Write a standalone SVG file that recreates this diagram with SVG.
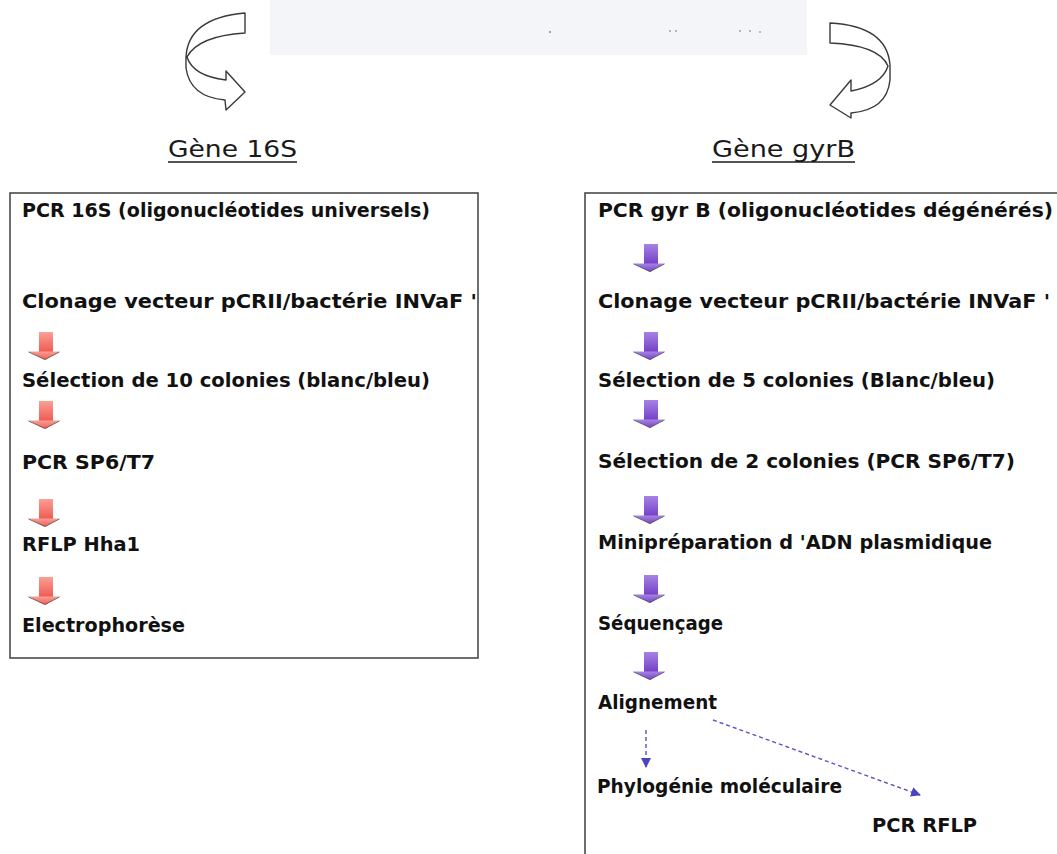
<svg xmlns="http://www.w3.org/2000/svg" width="1057" height="854" viewBox="0 0 1057 854">
<defs>
<style>
.t{font-family:"DejaVu Sans","Noto Sans",sans-serif;font-weight:bold;font-size:20px;fill:#111}
.h{font-family:"DejaVu Sans","Noto Sans",sans-serif;font-size:23px;fill:#1a1a1a}
.box{fill:#fff;stroke:#4a4a4a;stroke-width:1.6}
.curl{fill:#fff;stroke:#3a3a3a;stroke-width:1.4;stroke-linejoin:round}
.ul{stroke:#1a1a1a;stroke-width:1.6}
.dash{stroke:#5b52c4;stroke-width:1.4;stroke-dasharray:4 3;fill:none}
.red{fill:url(#gr)}
.pur{fill:url(#gp)}
</style>
<linearGradient id="gr" x1="0" y1="0" x2="0" y2="1">
<stop offset="0" stop-color="#fb9f96"/><stop offset="1" stop-color="#ef5a50"/>
</linearGradient>
<linearGradient id="gp" x1="0" y1="0" x2="0" y2="1">
<stop offset="0" stop-color="#a783e4"/><stop offset="1" stop-color="#7440c6"/>
</linearGradient>
<marker id="ah" viewBox="0 0 10 10" refX="9" refY="5" markerWidth="10" markerHeight="10" markerUnits="userSpaceOnUse" orient="auto">
<path d="M0,0 L10,5 L0,10 Z" fill="#4b44bf"/>
</marker>
<symbol id="arw" viewBox="0 0 32 28" overflow="visible">
<rect x="11" y="0" width="14" height="20"/>
<path d="M0,19.5 L32,19.5 L17,28 Z"/>
<path d="M0.5,20 L17,27.5 L31.5,20" fill="none" stroke="#555" stroke-width="0.8"/>
</symbol>
</defs>
<rect width="1057" height="854" fill="#fff"/>
<g id="faded">
<rect x="270" y="0" width="537" height="55" fill="#f4f5f9"/>
<circle cx="550" cy="32" r="1" fill="#888"/>
<circle cx="670" cy="31" r="0.9" fill="#999"/>
<circle cx="676" cy="31" r="0.9" fill="#999"/>
<circle cx="740" cy="31" r="0.9" fill="#999"/>
<circle cx="750" cy="31" r="0.9" fill="#999"/>
<circle cx="760" cy="32" r="0.9" fill="#999"/>
</g>
<g id="curl-left">
<path class="curl" d="M245,13 Q188,18 186,57 L186,68 Q190,97 225,100 L226,110 L245,92 L226,71 L226,80 Q193,76 187,57 Q198,36 245,33 Z"/>
</g>
<g id="curl-right">
<path class="curl" d="M830,23 Q887,26 890,65 L890,80 Q887,110 851,113 L851,118 L830,105 L851,80 L851,91 Q882,85 888,66 Q879,45 830,43 Z"/>
</g>
<g id="title-16s">
<text class="h" x="168" y="157" textLength="129" lengthAdjust="spacingAndGlyphs">Gène 16S</text>
<line class="ul" x1="168" y1="162" x2="297" y2="162"/>
</g>
<g id="title-gyrb">
<text class="h" x="712" y="157" textLength="143" lengthAdjust="spacingAndGlyphs">Gène gyrB</text>
<line class="ul" x1="712" y1="162" x2="855" y2="162"/>
</g>
<g id="box-16s">
<rect class="box" x="10" y="193" width="468" height="465"/>
<text class="t" x="22" y="217" textLength="408" lengthAdjust="spacingAndGlyphs">PCR 16S (oligonucléotides universels)</text>
<text class="t" x="22" y="308" textLength="455" lengthAdjust="spacingAndGlyphs">Clonage vecteur pCRII/bactérie INVaF '</text>
<text class="t" x="22" y="387" textLength="408" lengthAdjust="spacingAndGlyphs">Sélection de 10 colonies (blanc/bleu)</text>
<text class="t" x="22" y="469" textLength="133" lengthAdjust="spacingAndGlyphs">PCR SP6/T7</text>
<text class="t" x="22" y="551" textLength="118" lengthAdjust="spacingAndGlyphs">RFLP Hha1</text>
<text class="t" x="22" y="632" textLength="163" lengthAdjust="spacingAndGlyphs">Electrophorèse</text>
</g>
<g id="box-gyrb">
<rect class="box" x="585" y="193" width="480" height="680"/>
<text class="t" x="598" y="217" textLength="455" lengthAdjust="spacingAndGlyphs">PCR gyr B (oligonucléotides dégénérés)</text>
<text class="t" x="598" y="308" textLength="452" lengthAdjust="spacingAndGlyphs">Clonage vecteur pCRII/bactérie INVaF '</text>
<text class="t" x="598" y="387" textLength="397" lengthAdjust="spacingAndGlyphs">Sélection de 5 colonies (Blanc/bleu)</text>
<text class="t" x="598" y="468" textLength="417" lengthAdjust="spacingAndGlyphs">Sélection de 2 colonies (PCR SP6/T7)</text>
<text class="t" x="598" y="549" textLength="394" lengthAdjust="spacingAndGlyphs">Minipréparation d 'ADN plasmidique</text>
<text class="t" x="598" y="630" textLength="125" lengthAdjust="spacingAndGlyphs">Séquençage</text>
<text class="t" x="598" y="709" textLength="119" lengthAdjust="spacingAndGlyphs">Alignement</text>
<text class="t" x="597" y="793" textLength="245" lengthAdjust="spacingAndGlyphs">Phylogénie moléculaire</text>
<text class="t" x="872" y="832" textLength="105" lengthAdjust="spacingAndGlyphs">PCR RFLP</text>
</g>
<g id="connectors">
<use href="#arw" class="red" x="28" y="332" width="32" height="28"/>
<use href="#arw" class="red" x="28" y="401" width="32" height="28"/>
<use href="#arw" class="red" x="28" y="499" width="32" height="28"/>
<use href="#arw" class="red" x="28" y="577" width="32" height="28"/>
<use href="#arw" class="pur" x="633" y="244" width="32" height="28"/>
<use href="#arw" class="pur" x="633" y="332" width="32" height="28"/>
<use href="#arw" class="pur" x="633" y="400" width="32" height="28"/>
<use href="#arw" class="pur" x="633" y="496" width="32" height="28"/>
<use href="#arw" class="pur" x="633" y="575" width="32" height="28"/>
<use href="#arw" class="pur" x="633" y="652" width="32" height="28"/>
<line class="dash" x1="646" y1="730" x2="646" y2="767" marker-end="url(#ah)"/>
<line class="dash" x1="713" y1="720" x2="920" y2="795" marker-end="url(#ah)"/>
</g>
</svg>
